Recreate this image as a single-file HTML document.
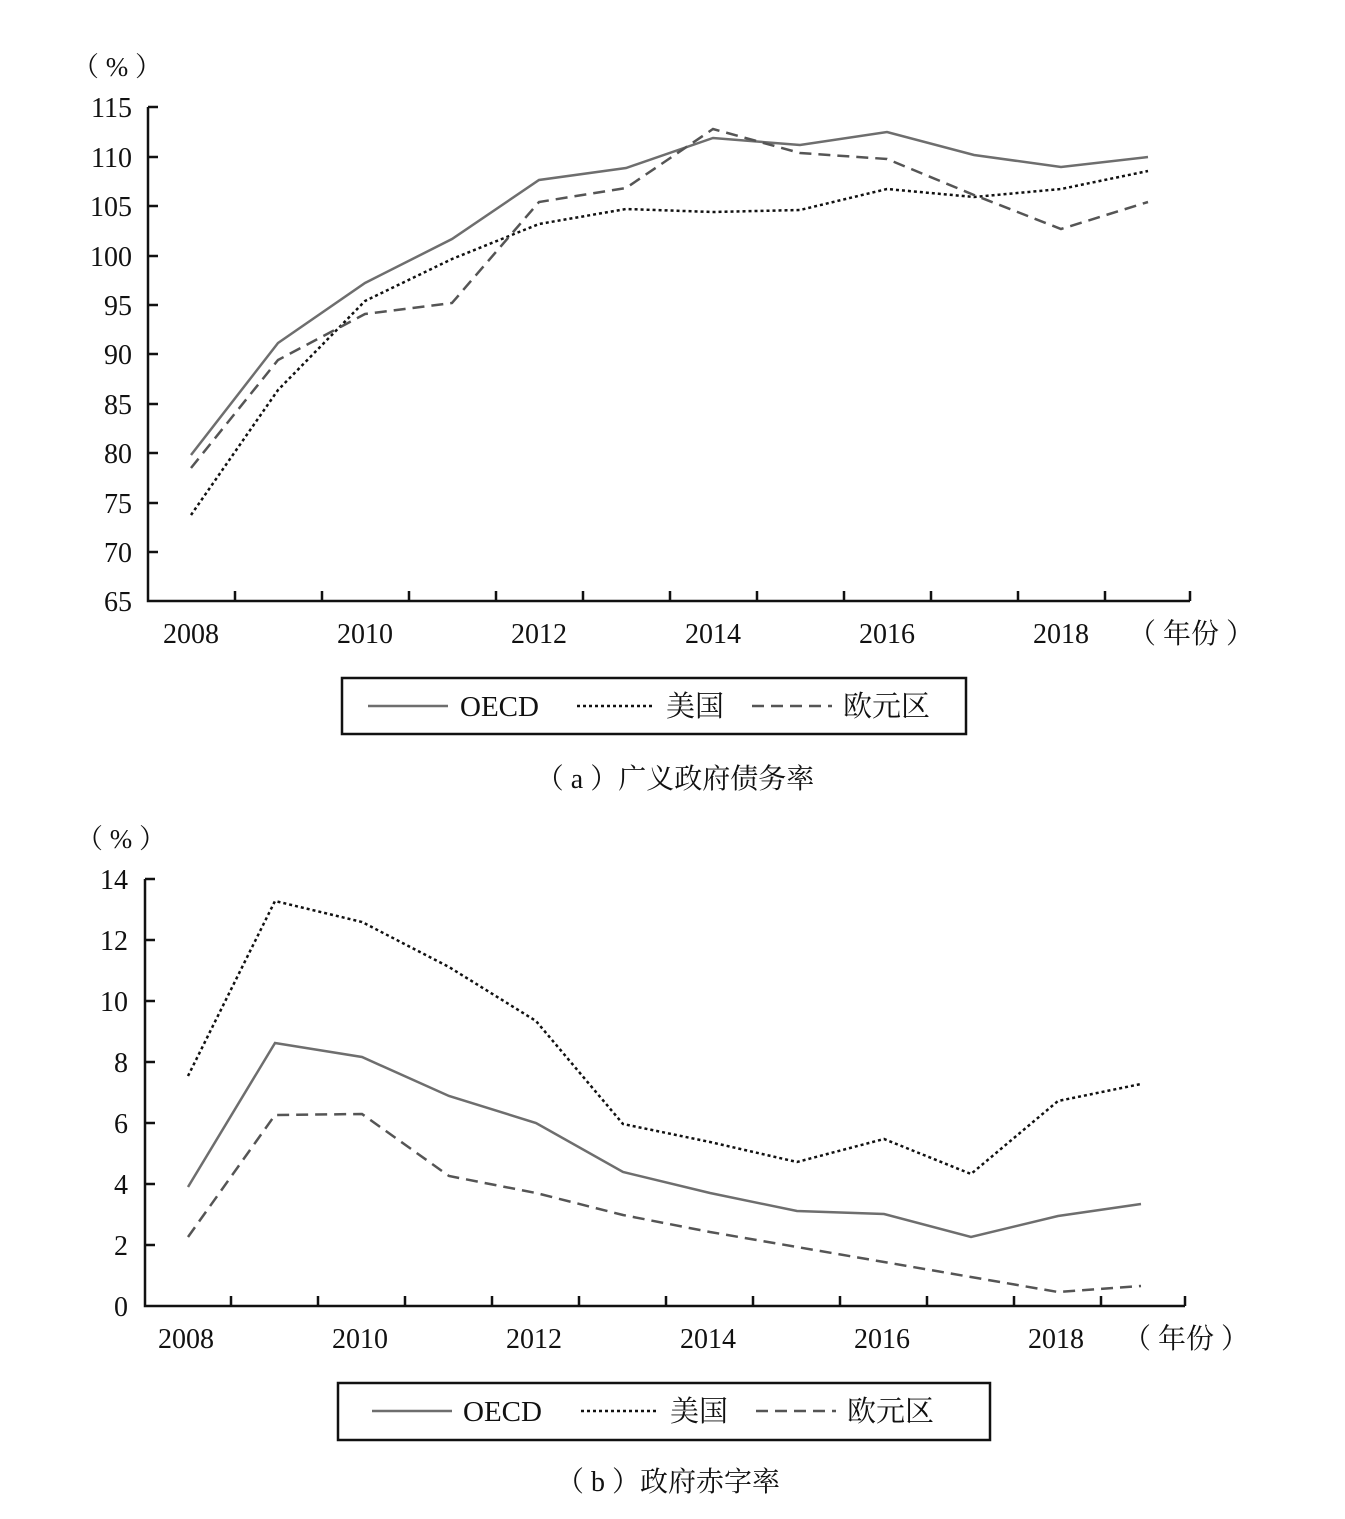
<!DOCTYPE html>
<html><head><meta charset="utf-8"><style>
html,body{margin:0;padding:0;background:#fff;}
svg{display:block;}
text{font-family:"Liberation Serif","Noto Serif CJK SC",serif;fill:#111;}
</style></head><body>
<svg width="1345" height="1519" viewBox="0 0 1345 1519" xmlns="http://www.w3.org/2000/svg">
<!-- Chart a -->
<text x="72" y="76" font-size="27">（ % ）</text>
<g font-size="28" text-anchor="end">
<text x="132" y="117">115</text><text x="132" y="167">110</text><text x="132" y="216">105</text>
<text x="132" y="266">100</text><text x="132" y="315">95</text><text x="132" y="364">90</text>
<text x="132" y="414">85</text><text x="132" y="463">80</text><text x="132" y="513">75</text>
<text x="132" y="562">70</text><text x="132" y="611">65</text>
</g>
<g stroke="#111" stroke-width="2.5" fill="none">
<path d="M148 107V601H1190"/>
<path d="M148 107h10M148 157h10M148 206h10M148 256h10M148 305h10M148 354h10M148 404h10M148 453h10M148 503h10M148 552h10"/>
<path d="M235 601v-10M322 601v-10M409 601v-10M496 601v-10M583 601v-10M670 601v-10M757 601v-10M844 601v-10M931 601v-10M1018 601v-10M1105 601v-10M1190 601v-10"/>
</g>
<g font-size="28" text-anchor="middle">
<text x="191" y="643">2008</text><text x="365" y="643">2010</text><text x="539" y="643">2012</text>
<text x="713" y="643">2014</text><text x="887" y="643">2016</text><text x="1061" y="643">2018</text>
<text x="1191" y="643">（ 年份 ）</text>
</g>
<polyline fill="none" stroke="#6e6e6e" stroke-width="2.5" points="191,455 278,343 365,283 452,239 539,180 626,168 713,138 800,145 887,132 974,155 1061,167 1148,157"/>
<polyline fill="none" stroke="#111" stroke-width="2.5" stroke-dasharray="3,3" points="191,515 278,390 365,301 452,259 539,224 626,209 713,212 800,210 887,189 974,197 1061,189 1148,171"/>
<polyline fill="none" stroke="#555" stroke-width="2.5" stroke-dasharray="12,7" points="191,468 278,360 365,314 452,303 539,202 626,188 713,129 800,153 887,159 974,195 1061,229 1148,202"/>
<rect x="342" y="678" width="624" height="56" fill="none" stroke="#111" stroke-width="2.5"/>
<line x1="368" y1="706" x2="448" y2="706" stroke="#6e6e6e" stroke-width="2.5"/>
<text x="460" y="716" font-size="29">OECD</text>
<line x1="577" y1="706" x2="655" y2="706" stroke="#111" stroke-width="2.5" stroke-dasharray="3,3"/>
<text x="666" y="716" font-size="29">美国</text>
<line x1="752" y1="706" x2="832" y2="706" stroke="#555" stroke-width="2.5" stroke-dasharray="12,7"/>
<text x="843" y="716" font-size="29">欧元区</text>
<text x="675" y="788" font-size="28" text-anchor="middle">（ a ）广义政府债务率</text>

<!-- Chart b -->
<text x="76" y="848" font-size="27">（ % ）</text>
<g font-size="28" text-anchor="end">
<text x="128" y="889">14</text><text x="128" y="950">12</text><text x="128" y="1011">10</text>
<text x="128" y="1072">8</text><text x="128" y="1133">6</text><text x="128" y="1194">4</text>
<text x="128" y="1255">2</text><text x="128" y="1316">0</text>
</g>
<g stroke="#111" stroke-width="2.5" fill="none">
<path d="M145 879V1306H1185"/>
<path d="M145 879h10M145 940h10M145 1001h10M145 1062h10M145 1123h10M145 1184h10M145 1245h10"/>
<path d="M231 1306v-10M318 1306v-10M405 1306v-10M492 1306v-10M579 1306v-10M666 1306v-10M753 1306v-10M840 1306v-10M927 1306v-10M1014 1306v-10M1101 1306v-10M1185 1306v-10"/>
</g>
<g font-size="28" text-anchor="middle">
<text x="186" y="1348">2008</text><text x="360" y="1348">2010</text><text x="534" y="1348">2012</text>
<text x="708" y="1348">2014</text><text x="882" y="1348">2016</text><text x="1056" y="1348">2018</text>
<text x="1186" y="1348">（ 年份 ）</text>
</g>
<polyline fill="none" stroke="#6e6e6e" stroke-width="2.5" points="188,1187 275,1043 362,1057 449,1096 536,1123 623,1172 710,1193 797,1211 884,1214 971,1237 1058,1216 1141,1204"/>
<polyline fill="none" stroke="#111" stroke-width="2.5" stroke-dasharray="3,3" points="188,1076 275,901 362,922 449,967 536,1021 623,1124 710,1142 797,1162 884,1139 971,1174 1058,1101 1141,1084"/>
<polyline fill="none" stroke="#555" stroke-width="2.5" stroke-dasharray="12,7" points="188,1237 275,1115 362,1114 449,1176 536,1193 623,1215 710,1232 797,1247 884,1262 971,1277 1058,1292 1141,1286"/>
<rect x="338" y="1383" width="652" height="57" fill="none" stroke="#111" stroke-width="2.5"/>
<line x1="372" y1="1411" x2="452" y2="1411" stroke="#6e6e6e" stroke-width="2.5"/>
<text x="463" y="1421" font-size="29">OECD</text>
<line x1="581" y1="1411" x2="659" y2="1411" stroke="#111" stroke-width="2.5" stroke-dasharray="3,3"/>
<text x="670" y="1421" font-size="29">美国</text>
<line x1="756" y1="1411" x2="836" y2="1411" stroke="#555" stroke-width="2.5" stroke-dasharray="12,7"/>
<text x="847" y="1421" font-size="29">欧元区</text>
<text x="668" y="1491" font-size="28" text-anchor="middle">（ b ）政府赤字率</text>
</svg>
</body></html>
